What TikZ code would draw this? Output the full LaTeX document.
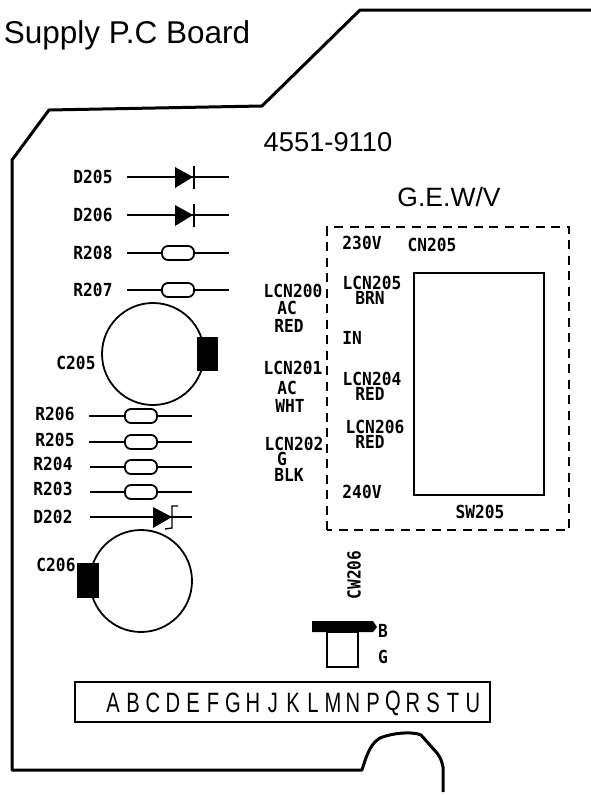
\documentclass[tikz,border=0pt]{standalone}
\usepackage{fontspec}
\setmainfont{Liberation Sans}
\newfontfamily\partfont{DejaVu Sans Mono}[FakeStretch=0.9]
\newfontfamily\stripfont{Liberation Sans}[FakeStretch=0.72]

\tikzset{
	partlabel/.style={inner sep=0pt,font=\partfont\bfseries\fontsize{18}{18}\selectfont},
	stripletter/.style={inner sep=0pt,font=\stripfont\fontsize{28}{28}\selectfont},
	resistor/.style={draw,line width=1.8pt,rounded corners=6pt,minimum width=32pt,minimum height=14pt,inner sep=0pt},
	lead/.style={line width=1.4pt},
}

\begin{document}
\begin{tikzpicture}[x=1pt,y=-1pt]
	\useasboundingbox (0,0) rectangle (591,795);

	% board edge
	\draw[line width=3pt,line join=round] (443,792) -- (443,767) .. controls (441,759) .. (437,753) -- (421,735)
		.. controls (412,731) and (392,733) .. (380,738) .. controls (372,743) and (368,750) .. (362,770)
		-- (12,770) -- (12,160) -- (49,110) -- (262,106) -- (360,10) -- (591,10);

	\node[font=\fontsize{31.5}{32}\selectfont,inner sep=0pt] (title) at (127,35) {Supply P.C Board};
	\node[font=\fontsize{27.3}{28}\selectfont,inner sep=0pt] (partno) at (328,142) {4551-9110};
	\node[font=\fontsize{26.5}{27}\selectfont,inner sep=0pt] (gewv) at (449,197) {G.E.W/V};

	% diodes
	\node[partlabel] (d205) at (93,177) {D205};
	\coordinate (d205a) at (127,177);
	\coordinate (d205b) at (229,177);
	\draw[lead] (d205a) -- (d205b);
	\fill (175,167) -- (193,177) -- (175,188) -- cycle;
	\draw[lead] (194,166) -- (194,189);

	\node[partlabel] (d206) at (93,215) {D206};
	\coordinate (d206a) at (127,215);
	\coordinate (d206b) at (229,215);
	\draw[lead] (d206a) -- (d206b);
	\fill (175,205) -- (193,215) -- (175,226) -- cycle;
	\draw[lead] (194,204) -- (194,227);

	\node[partlabel] (d202) at (53,517) {D202};
	\coordinate (d202a) at (90,517);
	\coordinate (d202b) at (192,517);
	\draw[lead] (d202a) -- (d202b);
	\fill (153,507) -- (172,517) -- (153,528) -- cycle;
	\draw[lead] (178,506) -- (172,506) -- (172,528) -- (165,529);

	% resistors
	\node[partlabel] (r208l) at (93,253) {R208};
	\node[resistor] (r208) at (178,253) {};
	\coordinate (r208a) at (127,253);
	\coordinate (r208b) at (229,253);
	\draw[lead] (r208a) -- (r208) (r208) -- (r208b);

	\node[partlabel] (r207l) at (93,290) {R207};
	\node[resistor] (r207) at (178,290) {};
	\coordinate (r207a) at (127,290);
	\coordinate (r207b) at (229,290);
	\draw[lead] (r207a) -- (r207) (r207) -- (r207b);

	\node[partlabel] (r206l) at (55,414) {R206};
	\node[resistor] (r206) at (141,416) {};
	\coordinate (r206a) at (89,416);
	\coordinate (r206b) at (192,416);
	\draw[lead] (r206a) -- (r206) (r206) -- (r206b);

	\node[partlabel] (r205l) at (55,440) {R205};
	\node[resistor] (r205) at (141,442) {};
	\coordinate (r205a) at (89,442);
	\coordinate (r205b) at (192,442);
	\draw[lead] (r205a) -- (r205) (r205) -- (r205b);

	\node[partlabel] (r204l) at (53,464) {R204};
	\node[resistor] (r204) at (141,467) {};
	\coordinate (r204a) at (90,467);
	\coordinate (r204b) at (192,467);
	\draw[lead] (r204a) -- (r204) (r204) -- (r204b);

	\node[partlabel] (r203l) at (53,489) {R203};
	\node[resistor] (r203) at (141,492) {};
	\coordinate (r203a) at (90,492);
	\coordinate (r203b) at (192,492);
	\draw[lead] (r203a) -- (r203) (r203) -- (r203b);

	% capacitors
	\node[partlabel] (c205) at (76,363) {C205};
	\draw[line width=1.8pt] (153,354) circle (51);
	\fill (197,337) rectangle (218,371);

	\node[partlabel] (c206) at (56,565) {C206};
	\draw[line width=1.8pt] (141,581) circle (51);
	\fill (77,563) rectangle (99,598);

	% wire labels
	\node[partlabel] (lcn200) at (293,291) {LCN200};
	\node[partlabel] (lcn200a) at (287,308) {AC};
	\node[partlabel] (lcn200b) at (289,326) {RED};
	\node[partlabel] (lcn201) at (293,368) {LCN201};
	\node[partlabel] (lcn201a) at (287,388) {AC};
	\node[partlabel] (lcn201b) at (290,406) {WHT};
	\node[partlabel] (lcn202) at (294,444) {LCN202};
	\node[partlabel] (lcn202a) at (282,459) {G};
	\node[partlabel] (lcn202b) at (289,475) {BLK};

	% switch
	\draw[line width=1.8pt,dash pattern=on 9pt off 6.5pt] (327,530) -- (327,227) -- (569,227) -- (569,530) -- cycle;
	\draw[line width=1.8pt] (414,273) rectangle (544,495);
	\node[partlabel] (v230) at (362,243) {230V};
	\node[partlabel] (cn205) at (432,245) {CN205};
	\node[partlabel] (lcn205) at (372,283) {LCN205};
	\node[partlabel] (lcn205a) at (370,298) {BRN};
	\node[partlabel] (in) at (352,338) {IN};
	\node[partlabel] (lcn204) at (372,379) {LCN204};
	\node[partlabel] (lcn204a) at (370,394) {RED};
	\node[partlabel] (lcn206) at (375,427) {LCN206};
	\node[partlabel] (lcn206a) at (370,442) {RED};
	\node[partlabel] (v240) at (362,492) {240V};
	\node[partlabel] (sw205) at (480,512) {SW205};

	% connector
	\node[partlabel,rotate=90] (cw206) at (354,575) {CW206};
	\draw[line width=1.6pt] (327,632) rectangle (358,667);
	\fill (312,621) -- (373,621) -- (377,627) -- (373,632) -- (312,632) -- cycle;
	\node[partlabel] (b) at (383,631) {B};
	\node[partlabel] (g) at (383,657) {G};

	% strip
	\draw[line width=1.5pt] (75,682) rectangle (490,722);
	\foreach \letter [count=\i from 0] in {A,B,C,D,E,F,G,H,J,K,L,M,N,P,Q,R,S,T,U}
		\node[stripletter] (strip\i) at (113+20*\i,703) {\letter};
\end{tikzpicture}
\end{document}
